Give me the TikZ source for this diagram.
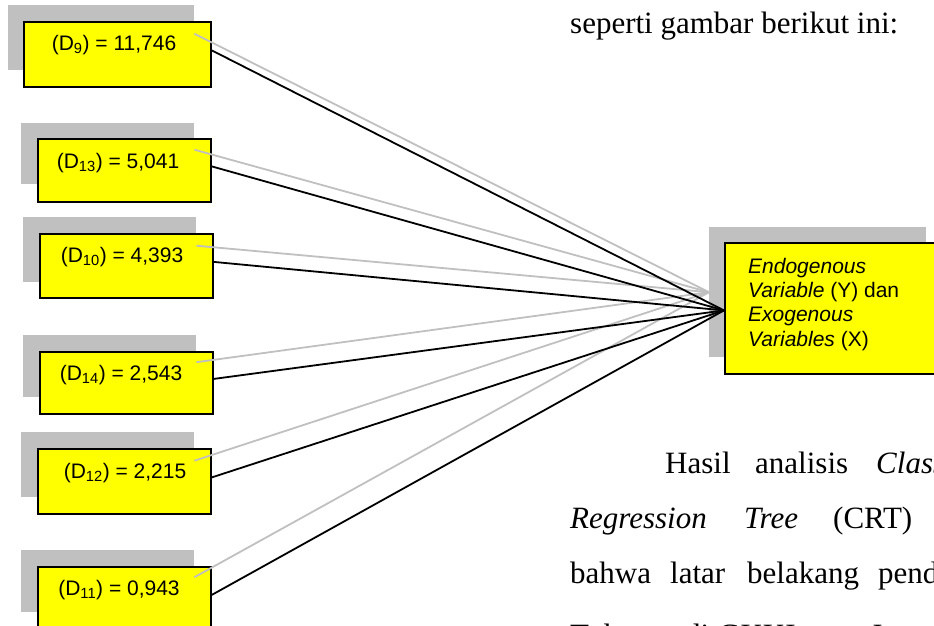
\documentclass[tikz,border=0pt]{standalone}
\usepackage{fontspec}
\setmainfont{Liberation Serif}
\newfontfamily\arialf{Liberation Sans}
\definecolor{shade}{HTML}{C0C0C0}
\definecolor{boxyellow}{HTML}{FFFF00}
\begin{document}
\begin{tikzpicture}[x=1pt,y=-1pt,
  shadowbox/.style={fill=shade, draw=none, anchor=north west, inner sep=0pt},
  ybox/.style={fill=boxyellow, draw=black, line width=1.8pt, anchor=north west, inner sep=0pt},
  lbl/.style={font=\arialf\fontsize{21}{24.5}\selectfont, inner sep=0pt},
  rlbl/.style={font=\arialf\fontsize{21}{24.5}\selectfont, inner sep=0pt, anchor=base west},
  body/.style={font=\fontsize{31}{36}\selectfont, inner sep=0pt, anchor=base west},
  grayline/.style={draw=shade, line width=1.8pt},
  blackline/.style={draw=black, line width=1.8pt},
]
\useasboundingbox (0,0) rectangle (934,625);
\clip (0,0) rectangle (934,625);

% shadows
\node[shadowbox, minimum width=186pt, minimum height=65pt] (s9)  at (8,5) {};
\node[shadowbox, minimum width=173pt, minimum height=61pt] (s13) at (21,123) {};
\node[shadowbox, minimum width=173pt, minimum height=65pt] (s10) at (23,217) {};
\node[shadowbox, minimum width=173pt, minimum height=62pt] (s14) at (23,335) {};
\node[shadowbox, minimum width=173pt, minimum height=65pt] (s12) at (21,432) {};
\node[shadowbox, minimum width=173pt, minimum height=62pt] (s11) at (21,550) {};
\node[shadowbox, minimum width=217pt, minimum height=130pt] (sR) at (709,227) {};

% yellow boxes
\node[ybox, minimum width=187pt, minimum height=65pt] (b9)  at (23,21) {};
\node[ybox, minimum width=173pt, minimum height=63pt] (b13) at (37,138) {};
\node[ybox, minimum width=173pt, minimum height=64pt] (b10) at (39,233) {};
\node[ybox, minimum width=173pt, minimum height=62pt] (b14) at (39,351) {};
\node[ybox, minimum width=173pt, minimum height=65pt] (b12) at (37,448) {};
\node[ybox, minimum width=173pt, minimum height=64pt] (b11) at (37,566) {};
\node[ybox, minimum width=217pt, minimum height=131pt] (bR) at (724,242) {};

% labels
\node[lbl] (t9)  at (114,45)  {(D\textsubscript{9}) = 11,746};
\node[lbl] (t13) at (118,163) {(D\textsubscript{13}) = 5,041};
\node[lbl] (t10) at (122,257) {(D\textsubscript{10}) = 4,393};
\node[lbl] (t14) at (121,375) {(D\textsubscript{14}) = 2,543};
\node[lbl] (t12) at (125,473) {(D\textsubscript{12}) = 2,215};
\node[lbl] (t11) at (119,590) {(D\textsubscript{11}) = 0,943};

\node[rlbl] (e1) at (748,273) {\textit{Endogenous}};
\node[rlbl] (e2) at (748,297.5) {\textit{Variable} (Y) dan};
\node[rlbl] (e3) at (748,321.5) {\textit{Exogenous}};
\node[rlbl] (e4) at (748,346.5) {\textit{Variables} (X)};

% connectors
\foreach \n in {9,13,10,14,12,11}{
  \draw[grayline] ([yshift=4pt]s\n.east) -- (sR.west);
}
\foreach \n in {9,13,10,14,12,11}{
  \draw[blackline] ([yshift=4pt]b\n.east) -- ([yshift=-2pt]bR.west);
}

% body text
\node[body] (p1) at (570,33) {seperti gambar berikut ini:};
\node[body] (h1) at (665,473) {Hasil};
\node[body] (h2) at (755,473) {analisis};
\node[body] (h3) at (876,473) {\textit{Classification}};
\node[body] (r1) at (570,528) {\textit{Regression}};
\node[body] (r2) at (744,528) {\textit{Tree}};
\node[body] (r3) at (833,528) {(CRT)};
\node[body] (l1) at (570,583) {bahwa};
\node[body] (l2) at (670,583) {latar};
\node[body] (l3) at (747,583) {belakang};
\node[body] (l4) at (878,583) {pendidikan};
\node[body] (k1) at (570,645) {Tukang};
\node[body] (k2) at (685,645) {di};
\node[body] (k3) at (718,645) {GKKI};
\node[body] (k4) at (870,645) {Jawa};
\end{tikzpicture}
\end{document}
